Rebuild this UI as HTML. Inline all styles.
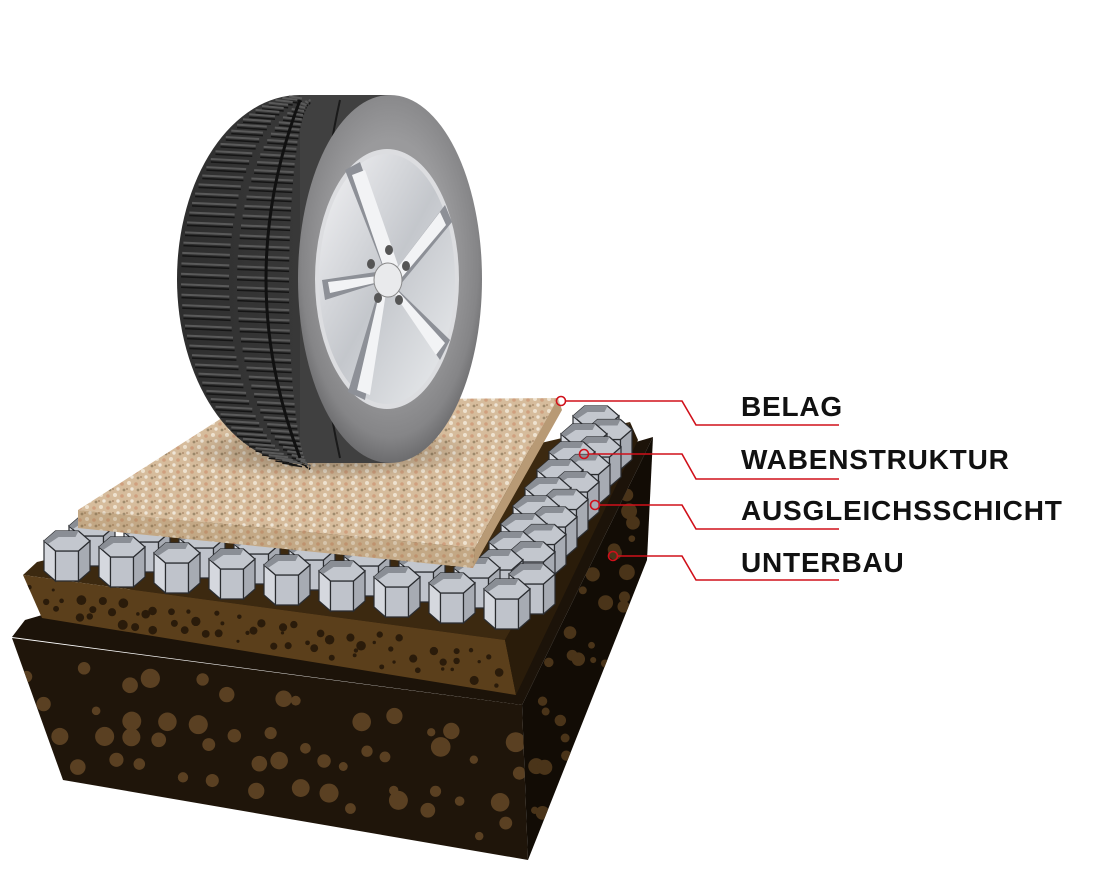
<!DOCTYPE html>
<html><head><meta charset="utf-8"><style>
html,body{margin:0;padding:0;background:#fff;width:1096px;height:877px;overflow:hidden}
svg{display:block}
.lbl{font-family:"Liberation Sans",sans-serif;font-weight:bold;font-size:28px;fill:#111;letter-spacing:0.8px}
</style></head><body>
<svg id="s" width="1096" height="877" viewBox="0 0 1096 877" xmlns="http://www.w3.org/2000/svg">
<defs>
<linearGradient id="rimG" x1="0" y1="0" x2="1" y2="1">
<stop offset="0" stop-color="#f4f4f6"/><stop offset="0.5" stop-color="#c4c7cc"/><stop offset="1" stop-color="#eceef0"/></linearGradient>
<radialGradient id="sideG" cx="0.5" cy="0.45" r="0.6">
<stop offset="0.55" stop-color="#9a9a9c"/><stop offset="0.8" stop-color="#858587"/><stop offset="1" stop-color="#5a5a5c"/></radialGradient>
<linearGradient id="treadG" x1="0" y1="0" x2="1" y2="0">
<stop offset="0" stop-color="#2e2e2e"/><stop offset="0.6" stop-color="#3a3a3a"/><stop offset="1" stop-color="#4c4c4c"/></linearGradient>
<pattern id="grav" width="14" height="12" patternUnits="userSpaceOnUse">
<rect width="14" height="12" fill="#d6bc9c"/>
<circle cx="3" cy="3" r="2" fill="#eee2cf"/><circle cx="10" cy="4" r="1.8" fill="#cf9f7e"/>
<circle cx="6" cy="9" r="1.7" fill="#efe6d8"/><circle cx="12" cy="10" r="1.4" fill="#9e8a6c"/>
<circle cx="1" cy="9" r="1" fill="#b09070"/>
</pattern>
<radialGradient id="shadow" cx="0.5" cy="0.5" r="0.5"><stop offset="0" stop-color="#3a3020" stop-opacity="0.55"/><stop offset="1" stop-color="#3a3020" stop-opacity="0"/></radialGradient>
<clipPath id="cU"><polygon points="12,638 522,705 528,860 63,780"/></clipPath>
<clipPath id="cR"><polygon points="522,705 653,437 647,560 528,860"/></clipPath>
<clipPath id="cA"><polygon points="23,575 505,640 516,695 42,618"/></clipPath>
</defs>
<g id="unter">
<polygon points="12,637 25,620 653,437 522,705" fill="#1c1309"/>
<polygon points="12,638 522,705 528,860 63,780" fill="#1f150a"/>
<polygon points="522,705 653,437 647,560 528,860" fill="#120c05"/>
</g>
<g id="ausg">
<polygon points="23,575 37,562 630,422 505,640" fill="#3c2910"/>
<polygon points="23,575 505,640 516,695 42,618" fill="#5b3f1b"/>
<polygon points="505,640 630,422 638,440 516,695" fill="#2a1c0a"/>
</g>
<g id="dU" clip-path="url(#cU)"></g>
<g id="dR" clip-path="url(#cR)"></g>
<g id="dA" clip-path="url(#cA)"></g>
<g id="hexes"></g>
<polygon points="78,510 250,400 558,398 475,548" fill="url(#grav)"/>
<polygon points="78,510 475,548 473,568 78,528" fill="url(#grav)"/>
<polygon points="78,510 475,548 473,568 78,528" fill="#8a6a40" opacity="0.25"/>
<polygon points="475,548 558,398 562,410 473,568" fill="#b89a75"/>
<ellipse cx="330" cy="452" rx="150" ry="28" fill="url(#shadow)"/>
<g id="tire">
<ellipse cx="300" cy="279" rx="123" ry="184" fill="url(#treadG)"/>
<rect x="300" y="95" width="90" height="368" fill="#404040"/>
<g id="tread" fill="none"></g>
<ellipse cx="390" cy="279" rx="92" ry="184" fill="url(#sideG)"/>
<ellipse cx="387" cy="279" rx="72" ry="130" fill="#dcdde0"/>
<ellipse cx="387" cy="279" rx="68" ry="125" fill="url(#rimG)"/>
<g fill="#8d9097">
<path d="M388,280 L345,170 L360,162 L395,262Z"/>
<path d="M388,280 L445,205 L452,222 L400,285Z"/>
<path d="M388,280 L450,340 L440,360 L395,295Z"/>
<path d="M388,280 L365,400 L348,392 L378,292Z"/>
<path d="M388,280 L325,300 L322,280 L376,272Z"/>
</g>
<g fill="#f2f3f5">
<path d="M388,280 L352,175 L365,170 L398,265Z"/>
<path d="M388,280 L440,212 L446,225 L398,282Z"/>
<path d="M388,280 L445,343 L436,355 L393,292Z"/>
<path d="M388,280 L370,395 L357,390 L380,290Z"/>
<path d="M388,280 L330,293 L328,282 L378,276Z"/>
</g>
<ellipse cx="388" cy="280" rx="14" ry="17" fill="#e9eaec" stroke="#888" stroke-width="1"/>
<g fill="#555">
<ellipse cx="389" cy="250" rx="4" ry="5"/><ellipse cx="406" cy="266" rx="4" ry="5"/>
<ellipse cx="399" cy="300" rx="4" ry="5"/><ellipse cx="378" cy="298" rx="4" ry="5"/>
<ellipse cx="371" cy="264" rx="4" ry="5"/></g>
</g>
<g stroke="#d0101a" stroke-width="1.6" fill="none">
<circle cx="561" cy="401" r="4.5" fill="#fff" fill-opacity="0.4"/>
<polyline points="566,401 682,401 696,425 839,425"/>
<circle cx="584" cy="454" r="4.5"/>
<polyline points="589,454 682,454 696,479 839,479"/>
<circle cx="595" cy="505" r="4.5"/>
<polyline points="600,505 682,505 696,529 839,529"/>
<circle cx="613" cy="556" r="4.5"/>
<polyline points="618,556 682,556 696,580 839,580"/>
</g>
<text class="lbl" x="741" y="416">BELAG</text>
<text class="lbl" x="741" y="469">WABENSTRUKTUR</text>
<text class="lbl" x="741" y="520">AUSGLEICHSSCHICHT</text>
<text class="lbl" x="741" y="572">UNTERBAU</text>
</svg>
<script>
var NS="http://www.w3.org/2000/svg";
function el(p,t,a){var e=document.createElementNS(NS,t);for(var k in a)e.setAttribute(k,a[k]);p.appendChild(e);return e;}
var seed=7;function rnd(){seed=(seed*16807)%2147483647;return seed/2147483647;}
function quad(a,b,c,d,u,v){var tx=a[0]+(b[0]-a[0])*u, ty=a[1]+(b[1]-a[1])*u, bx=d[0]+(c[0]-d[0])*u, by=d[1]+(c[1]-d[1])*u;return [tx+(bx-tx)*v, ty+(by-ty)*v];}
function grid(g,a,b,c,d,nu,nv,rmin,rmax,fill){var G=document.getElementById(g);for(var i=0;i<nu;i++)for(var j=0;j<nv;j++){var p=quad(a,b,c,d,(i+0.5+(rnd()-0.5)*0.8)/nu,(j+0.5+(rnd()-0.5)*0.8)/nv);el(G,'circle',{cx:p[0],cy:p[1],r:rmin+rnd()*(rmax-rmin),fill:fill});}}
grid('dU',[12,650],[522,717],[528,850],[63,775],13,4,4,10,'#5a4022');
grid('dR',[522,705],[653,437],[647,560],[528,860],4,7,3,8,'#4a3419');
grid('dA',[23,585],[505,650],[516,690],[42,614],22,3,1.5,5,'#2a1b0a');
var cells=[];
for(var i=0;i<9;i++){cells.push([92+55*i,526+6*i]);cells.push([67+55*i,541+6*i]);}
for(var i=0;i<9;i++){cells.push([500+12*i,560-18*i]);cells.push([532+11*i,552-17.5*i]);}
cells=cells.filter(function(c){return c[0]<620;});
cells.sort(function(a,b){return a[1]-b[1];});
var hg=document.getElementById('hexes');
var w=46,h=20,H=30;
cells.forEach(function(c){var x=c[0],y=c[1];
var v=[[x-w/2,y],[x-w/4,y-h/2],[x+w/4,y-h/2],[x+w/2,y],[x+w/4,y+h/2],[x-w/4,y+h/2]];
function P(a){return a.map(function(q){return q[0]+','+q[1]}).join(' ');}
var s={stroke:'#2a2c30','stroke-width':1.2};
el(hg,'polygon',Object.assign({points:P([v[0],v[5],[v[5][0],v[5][1]+H],[v[0][0],v[0][1]+H]]),fill:'#d5d8de'},s));
el(hg,'polygon',Object.assign({points:P([v[5],v[4],[v[4][0],v[4][1]+H],[v[5][0],v[5][1]+H]]),fill:'#bfc3cb'},s));
el(hg,'polygon',Object.assign({points:P([v[4],v[3],[v[3][0],v[3][1]+H],[v[4][0],v[4][1]+H]]),fill:'#a7abb3'},s));
el(hg,'polygon',Object.assign({points:P(v),fill:'#c3c7ce'},s));
el(hg,'polygon',{points:P([v[0],v[1],v[2],[x+w/4-3,y-h/2+6],[x-w/4+3,y-h/2+6],[x-w/2+4,y+3]]),fill:'#8a8e95'});
});
var tr=document.getElementById('tread');
for(var k=0;k<52;k++){var t=-1.45+k*(2.9/51);var yy=279+184*Math.sin(t);var cs=Math.cos(t);
var x1=300-123*cs+4, x2=x1+40*cs+8;
el(tr,'line',{x1:x1,y1:yy,x2:x2,y2:yy+2,stroke:'#5a5a5a','stroke-width':2});
el(tr,'line',{x1:x1,y1:yy+3,x2:x2,y2:yy+5,stroke:'#151515','stroke-width':1.5});
el(tr,'line',{x1:x2+8,y1:yy+3,x2:x2+60*cs,y2:yy+5,stroke:'#5a5a5a','stroke-width':2});
el(tr,'line',{x1:x2+8,y1:yy+6,x2:x2+60*cs,y2:yy+8,stroke:'#151515','stroke-width':1.5});
}
el(tr,'path',{d:'M300,100 Q232,279 300,458',stroke:'#111','stroke-width':3});
el(tr,'path',{d:'M340,100 Q300,279 340,458',stroke:'#1a1a1a','stroke-width':2});
</script>
</body></html>
